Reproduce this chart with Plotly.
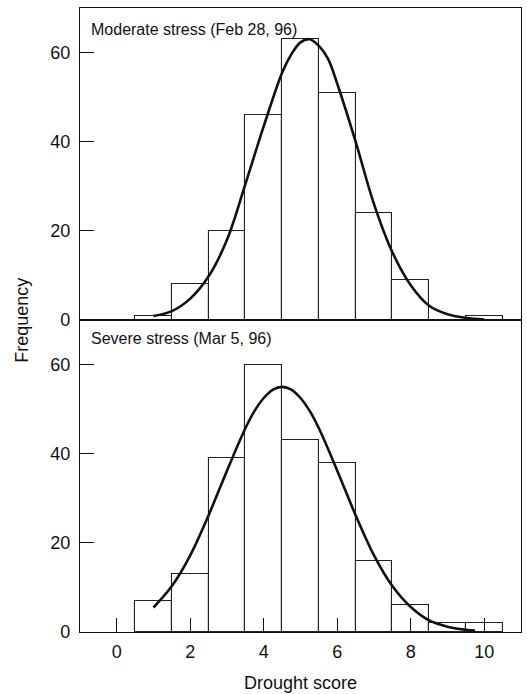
import plotly.graph_objects as go
from plotly.subplots import make_subplots

# ---- data ----
scores = [1, 2, 3, 4, 5, 6, 7, 8, 9, 10]
moderate_counts = [1, 8, 20, 46, 63, 51, 24, 9, 0, 1]
severe_counts = [7, 13, 39, 60, 43, 38, 16, 6, 2, 2]

moderate_curve_x = [1.0, 1.5, 2.0, 2.5, 3.0, 3.5, 4.0, 4.5, 4.75, 5.0, 5.25, 5.5, 5.75, 6.0, 6.5, 7.0, 7.5, 8.0, 8.5, 9.0, 9.5, 10.0]
moderate_curve_y = [0.9, 2.0, 4.8, 9.8, 18.0, 30.5, 43.5, 55.5, 59.6, 62.3, 63.0, 61.5, 58.6, 53.0, 40.0, 26.0, 15.2, 7.8, 3.2, 1.3, 0.5, 0.1]

severe_curve_x = [1.0, 1.5, 2.0, 2.5, 3.0, 3.5, 3.75, 4.0, 4.25, 4.5, 4.75, 5.0, 5.25, 5.5, 6.0, 6.5, 7.0, 7.5, 8.0, 8.5, 9.0, 9.5, 9.75]
severe_curve_y = [5.5, 10.3, 17.2, 26.2, 36.2, 45.7, 49.6, 52.5, 54.4, 55.0, 54.4, 52.5, 49.6, 45.7, 36.2, 26.2, 17.2, 10.3, 5.6, 2.6, 1.2, 0.5, 0.3]

x_ticks = [0, 2, 4, 6, 8, 10]
y_ticks = [0, 20, 40, 60]
panel_titles = ["Moderate stress (Feb 28, 96)", "Severe stress (Mar 5, 96)"]

FONT = "Liberation Sans, Arial, Helvetica, sans-serif"
INK = "#111"

fig = make_subplots(rows=2, cols=1, shared_xaxes=True, vertical_spacing=0)

for row, (counts, cx, cy) in enumerate(
    [(moderate_counts, moderate_curve_x, moderate_curve_y),
     (severe_counts, severe_curve_x, severe_curve_y)], start=1):
    fig.add_trace(go.Bar(x=scores, y=counts, width=1,
                         marker=dict(color="white", line=dict(color="#222", width=1.1)),
                         showlegend=False), row=row, col=1)
    fig.add_trace(go.Scatter(x=cx, y=cy, mode="lines",
                             line=dict(color=INK, width=2.6, shape="spline", smoothing=1),
                             showlegend=False), row=row, col=1)

axis_common = dict(showline=True, linecolor=INK, linewidth=1.2, mirror=True,
                   ticks="inside", ticklen=14, tickwidth=1, tickcolor=INK,
                   showgrid=False, zeroline=False, automargin=False,
                   tickfont=dict(family=FONT, size=18, color=INK))

fig.update_xaxes(range=[-1, 11], tickvals=x_ticks, **axis_common)
fig.update_xaxes(showticklabels=False, ticks="", row=1, col=1)
fig.update_xaxes(ticklabelstandoff=3, title=dict(text="Drought score",
                 font=dict(family=FONT, size=18, color=INK), standoff=15), row=2, col=1)
fig.update_yaxes(range=[0, 70], tickvals=y_ticks, ticklabelstandoff=5, **axis_common)

fig.add_annotation(text=panel_titles[0], xref="paper", yref="paper", x=0.02, y=0.983,
                   xanchor="left", yanchor="top", showarrow=False,
                   font=dict(family=FONT, size=16, color=INK))
fig.add_annotation(text=panel_titles[1], xref="paper", yref="paper", x=0.02, y=0.487,
                   xanchor="left", yanchor="top", showarrow=False,
                   font=dict(family=FONT, size=16, color=INK))
fig.add_annotation(text="Frequency", xref="paper", yref="paper", x=-0.132, y=0.5,
                   xanchor="center", yanchor="middle", textangle=-90, showarrow=False,
                   font=dict(family=FONT, size=18, color=INK))

fig.update_layout(width=527, height=694, margin=dict(l=80, r=6, t=8, b=62),
                  plot_bgcolor="white", paper_bgcolor="white", bargap=0)

fig.write_html("out.html")
